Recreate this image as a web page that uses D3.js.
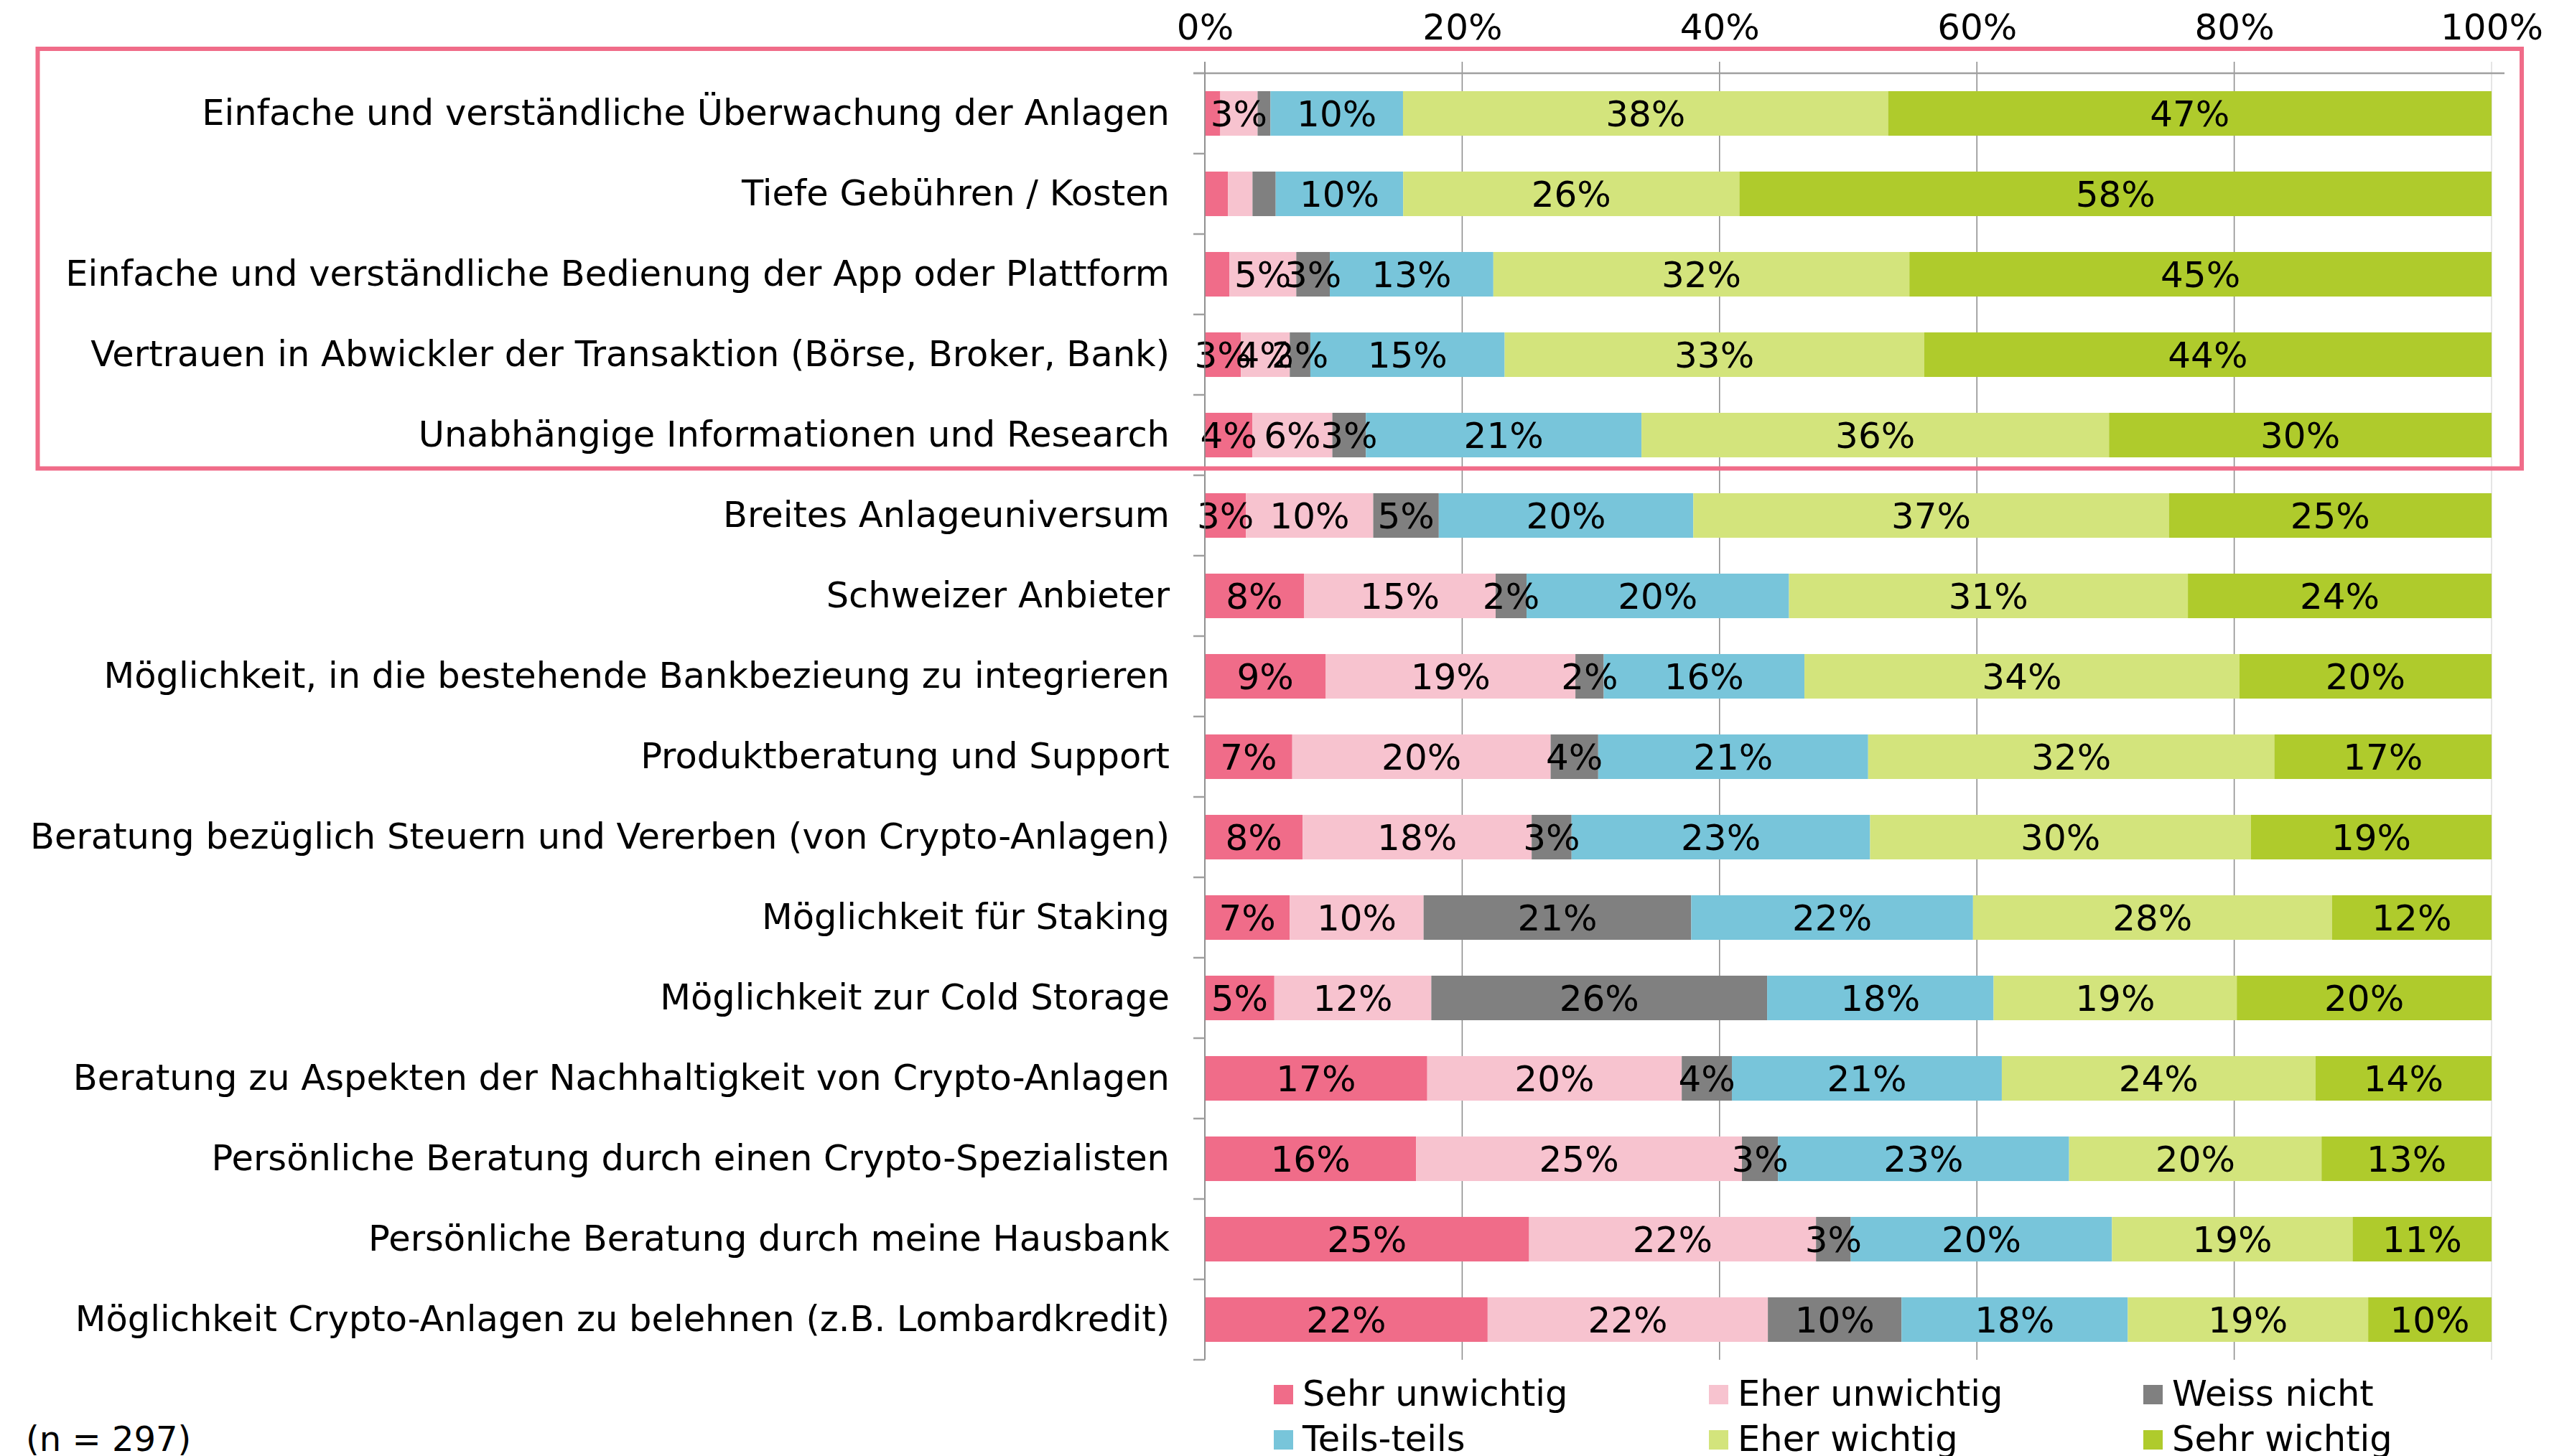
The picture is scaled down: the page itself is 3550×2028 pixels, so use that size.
<!DOCTYPE html>
<html>
<head>
<meta charset="utf-8">
<script src="https://cdn.jsdelivr.net/npm/d3@7"></script>
<style>
html,body{margin:0;padding:0;background:#fff;}
svg{display:block;}
text{font-family:"DejaVu Sans",Verdana,sans-serif;fill:#000;}
</style>
</head>
<body>
<svg id="chart" width="3550" height="2028"></svg>
<script>
const categories = [
  "Einfache und verständliche Überwachung der Anlagen",
  "Tiefe Gebühren / Kosten",
  "Einfache und verständliche Bedienung der App oder Plattform",
  "Vertrauen in Abwickler der Transaktion (Börse, Broker, Bank)",
  "Unabhängige Informationen und Research",
  "Breites Anlageuniversum",
  "Schweizer Anbieter",
  "Möglichkeit, in die bestehende Bankbezieung zu integrieren",
  "Produktberatung und Support",
  "Beratung bezüglich Steuern und Vererben (von Crypto-Anlagen)",
  "Möglichkeit für Staking",
  "Möglichkeit zur Cold Storage",
  "Beratung zu Aspekten der Nachhaltigkeit von Crypto-Anlagen",
  "Persönliche Beratung durch einen Crypto-Spezialisten",
  "Persönliche Beratung durch meine Hausbank",
  "Möglichkeit Crypto-Anlagen zu belehnen (z.B. Lombardkredit)"
];
const seriesNames = ["Sehr unwichtig","Eher unwichtig","Weiss nicht","Teils-teils","Eher wichtig","Sehr wichtig"];
const seriesColors = ["#F06C89","#F7C3CF","#808080","#78C5DA","#D3E47C","#AFCB2C"];

const sehrUnwichtig = [1.2, 1.8, 1.9, 2.8, 3.7, 3.2, 7.7, 9.4, 6.8, 7.6, 6.6, 5.4, 17.3, 16.4, 25.2, 22.0];
const eherUnwichtig = [2.9, 1.9, 5.2, 3.8, 6.2, 9.9, 14.9, 19.4, 20.1, 17.8, 10.4, 12.2, 19.8, 25.3, 22.3, 21.8];
const weissNicht    = [1.0, 1.8, 2.6, 1.6, 2.6, 5.1, 2.4, 2.2, 3.7, 3.1, 20.8, 26.1, 3.9, 2.8, 2.7, 10.4];
const teilsTeils    = [10.3, 9.9, 12.7, 15.1, 21.4, 19.8, 20.4, 15.6, 21.0, 23.2, 21.9, 17.6, 21.0, 22.6, 20.3, 17.6];
const eherWichtig   = [37.7, 26.1, 32.3, 32.6, 36.3, 37.0, 31.0, 33.8, 31.6, 29.6, 27.9, 18.9, 24.4, 19.6, 18.7, 18.7];
const sehrWichtig   = [46.9, 58.4, 45.2, 44.1, 29.7, 25.1, 23.6, 19.6, 16.9, 18.7, 12.4, 19.8, 13.7, 13.2, 10.8, 9.6];

// data labels removed in the original chart: [categoryIndex, seriesIndex]
const hiddenLabels = [[0,0],[0,2],[1,0],[1,1],[1,2],[2,0]];
const axisTicks = [0, 0.2, 0.4, 0.6, 0.8, 1.0];
const sampleNote = "(n = 297)";

const seriesValues = [sehrUnwichtig, eherUnwichtig, weissNicht, teilsTeils, eherWichtig, sehrWichtig];
const rows = categories.map((c, i) => {
  const r = {category: c, idx: i};
  seriesNames.forEach((s, j) => r[s] = seriesValues[j][i]);
  return r;
});

const svg = d3.select("#chart");
const x = d3.scaleLinear().domain([0, 1]).range([1678, 3470]);
const y = d3.scaleBand().domain(categories).range([102, 1894]).paddingInner(0.446).paddingOuter(0.223);

// gridlines
svg.append("g").selectAll("line").data(axisTicks).join("line")
  .attr("x1", d => x(d)).attr("x2", d => x(d))
  .attr("y1", 86).attr("y2", 1894)
  .attr("stroke", (d, i) => i === axisTicks.length - 1 ? "#dcdcdc" : "#8a8a8a")
  .attr("stroke-width", 1.5);

const stack = d3.stack().keys(seriesNames).offset(d3.stackOffsetExpand);
const stacked = stack(rows);

const gBars = svg.append("g");
stacked.forEach((layer, j) => {
  gBars.append("g").attr("fill", seriesColors[j])
    .selectAll("rect").data(layer).join("rect")
    .attr("x", d => x(d[0]))
    .attr("y", d => y(d.data.category))
    .attr("width", d => x(d[1]) - x(d[0]))
    .attr("height", y.bandwidth());
});

const hiddenSet = new Set(hiddenLabels.map(h => h[0] + "_" + h[1]));
const gLabels = svg.append("g").attr("font-size", 50).attr("text-anchor", "middle");
stacked.forEach((layer, j) => {
  gLabels.append("g").selectAll("text")
    .data(layer.filter(d => !hiddenSet.has(d.data.idx + "_" + j))).join("text")
    .attr("x", d => (x(d[0]) + x(d[1])) / 2)
    .attr("y", d => y(d.data.category) + y.bandwidth() / 2)
    .attr("dy", "0.36em")
    .text(d => Math.round(seriesValues[j][d.data.idx]) + "%");
});

// top value axis
const xAxis = d3.axisTop(x).tickValues(axisTicks).tickFormat(d => Math.round(d * 100) + "%").tickSize(0).tickPadding(0);
const gx = svg.append("g").attr("transform", "translate(0,55)").call(xAxis);
gx.select(".domain").remove();
gx.selectAll("text").attr("font-size", 50).attr("font-family", "DejaVu Sans").attr("fill", "#000").attr("dy", 0);

svg.append("line").attr("x1", 1662).attr("x2", 3488).attr("y1", 102).attr("y2", 102)
  .attr("stroke", "#a0a0a0").attr("stroke-width", 2.5);

// category axis
const yAxis = d3.axisLeft(y).tickSize(0).tickPadding(49);
const gy = svg.append("g").attr("transform", "translate(1678,0)").call(yAxis);
gy.select(".domain").remove();
gy.selectAll("text").attr("font-size", 49.5).attr("font-family", "DejaVu Sans").attr("fill", "#000");

svg.append("line").attr("x1", 1678).attr("x2", 1678).attr("y1", 86).attr("y2", 1894)
  .attr("stroke", "#8a8a8a").attr("stroke-width", 1.5);
const boundaries = d3.range(categories.length + 1).map(i => y.range()[0] + i * y.step());
svg.append("g").selectAll("line").data(boundaries).join("line")
  .attr("x1", 1662).attr("x2", 1678).attr("y1", d => d).attr("y2", d => d)
  .attr("stroke", "#a0a0a0").attr("stroke-width", 2.5);

// legend
const legendCols = [1774, 2380, 2985];
const legendRows = [1929, 1992];
const lg = svg.append("g");
seriesNames.forEach((s, j) => {
  const cx = legendCols[j % 3], cy = legendRows[Math.floor(j / 3)];
  lg.append("rect").attr("x", cx).attr("y", cy).attr("width", 27).attr("height", 27).attr("fill", seriesColors[j]);
  lg.append("text").attr("x", cx + 40).attr("y", cy + 29).attr("font-size", 49.5).text(s);
});

svg.append("text").attr("x", 36).attr("y", 2021).attr("font-size", 48).text(sampleNote);

// highlight box
svg.append("rect").attr("x", 52.5).attr("y", 68).attr("width", 3459.5).attr("height", 584.5)
  .attr("fill", "none").attr("stroke", "#F06C89").attr("stroke-width", 6);
</script>
</body>
</html>
